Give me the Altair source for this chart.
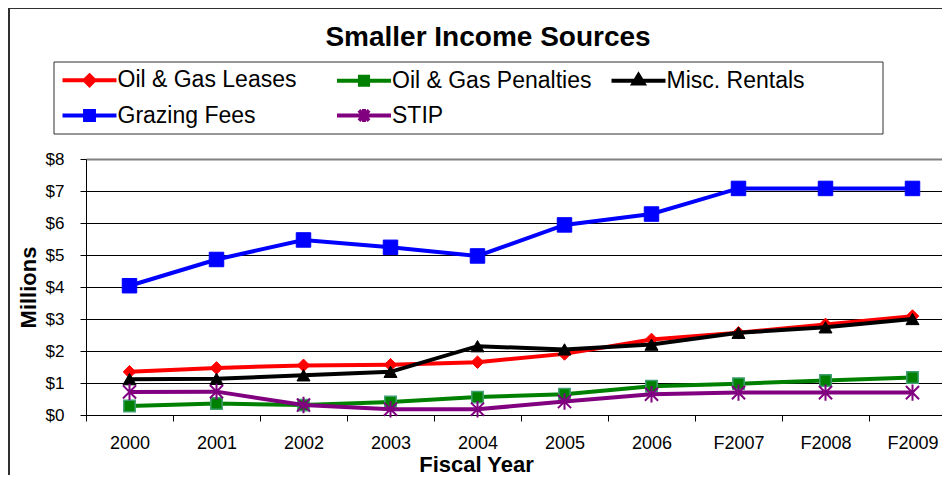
import altair as alt
import pandas as pd

# ---- data ----
years = ["2000", "2001", "2002", "2003", "2004", "2005", "2006", "F2007", "F2008", "F2009"]
series_names = ["Oil & Gas Leases", "Oil & Gas Penalties", "Misc. Rentals", "Grazing Fees", "STIP"]
oil_gas_leases = [1.35, 1.47, 1.55, 1.57, 1.65, 1.91, 2.36, 2.57, 2.83, 3.09]
oil_gas_penalties = [0.28, 0.36, 0.31, 0.41, 0.56, 0.65, 0.90, 0.98, 1.08, 1.17]
misc_rentals = [1.12, 1.13, 1.24, 1.35, 2.15, 2.05, 2.20, 2.57, 2.74, 3.00]
grazing_fees = [4.04, 4.86, 5.47, 5.24, 4.97, 5.94, 6.28, 7.08, 7.08, 7.08]
stip = [0.72, 0.73, 0.31, 0.18, 0.18, 0.42, 0.65, 0.70, 0.70, 0.70]
y_ticks = [0, 1, 2, 3, 4, 5, 6, 7, 8]

series_values = [oil_gas_leases, oil_gas_penalties, misc_rentals, grazing_fees, stip]

rows = []
for name, vals in zip(series_names, series_values):
    for yr, v in zip(years, vals):
        rows.append({"series": name, "year": yr, "value": v})
df = pd.DataFrame(rows)

# ---- styles ----
FONT = "Liberation Sans"
line_colors = ["#FF0000", "#008000", "#000000", "#0000FF", "#800080"]
ASTERISK = "M0,-1L0,1M-0.8,-0.8L0.8,0.8M-0.8,0.8L0.8,-0.8"
marker_styles = [
    dict(shape="diamond", fill="#FF0000", stroke="#FF0000", size=160, strokeWidth=1),
    dict(shape="square", fill="#008000", stroke="#3f9f70", size=130, strokeWidth=1.5),
    dict(shape="triangle-up", fill="#000000", stroke="#000000", size=170, strokeWidth=1),
    dict(shape="square", fill="#0000FF", stroke="#0000FF", size=210, strokeWidth=1),
    dict(shape=ASTERISK, fill="none", stroke="#800080", size=270, strokeWidth=2),
]
# legend glyphs: a long line (x from -4 to 4) with the series marker in the middle
legend_shapes = [
    "M-4,0L4,0M0,-0.72L0.72,0L0,0.72L-0.72,0Z",
    "M-4,0L4,0M-0.6,-0.6L0.6,-0.6L0.6,0.6L-0.6,0.6Z",
    "M-4,0L4,0M0,-0.85L0.75,0.4L-0.75,0.4Z",
    "M-4,0L4,0M-0.66,-0.66L0.66,-0.66L0.66,0.66L-0.66,0.66Z",
    "M-4,0L4,0M0,-0.95L0,0.95M-0.75,-0.75L0.75,0.75M-0.75,0.75L0.75,-0.75",
]

x_scale = alt.Scale(type="band", domain=years, range=[0, 870], paddingInner=0, paddingOuter=0)
y_scale = alt.Scale(domain=[0, 8], nice=False)

x_axis = alt.Axis(
    title="Fiscal Year", titleFont=FONT, titleFontSize=22, titleFontWeight="bold",
    titleColor="black", titleX=390, titleY=56, titleBaseline="alphabetic",
    titleAlign="center",
    labelFont=FONT, labelFontSize=18, labelColor="black", labelPadding=13, labelAngle=0,
    domainColor="black", domainWidth=1, tickColor="black", tickSize=6, tickBand="extent",
    grid=False,
)
y_axis = alt.Axis(
    values=y_ticks, labelExpr="'$' + datum.value",
    title="Millions", titleFont=FONT, titleFontSize=22, titleFontWeight="bold",
    titleColor="black", titleX=-58, titleY=128, titleAngle=270, titleAlign="center",
    titleBaseline="middle",
    labelFont=FONT, labelFontSize=17, labelColor="black", labelPadding=16,
    domainColor="black", domainWidth=1, tickColor="black", tickSize=6,
    grid=True,
    gridColor={"condition": {"test": "datum.value === 8", "value": "#808080"}, "value": "#000000"},
    gridWidth={"condition": {"test": "datum.value === 8", "value": 2}, "value": 1},
    gridOpacity=1,
)

base = alt.Chart(df)

layers = []

# outer chart-area border and legend box (decorations)
one = alt.Data(values=[{"k": 1}])
layers.append(
    alt.Chart(one).mark_rect(fill="white", fillOpacity=0, stroke="#303030", strokeWidth=2).encode(
        x=alt.value(-77), x2=alt.value(950), y=alt.value(-151), y2=alt.value(500)
    )
)
layers.append(
    alt.Chart(one).mark_rect(fill="white", fillOpacity=0, stroke="#303030", strokeWidth=1).encode(
        x=alt.value(-32), x2=alt.value(797), y=alt.value(-97), y2=alt.value(-25)
    )
)

for i, name in enumerate(series_names):
    sub = base.transform_filter(alt.datum.series == name)
    layers.append(
        sub.mark_line(color=line_colors[i], strokeWidth=4).encode(
            x=alt.X("year:N", scale=x_scale, axis=x_axis, sort=years),
            y=alt.Y("value:Q", scale=y_scale, axis=y_axis),
        )
    )
    ms = marker_styles[i]
    layers.append(
        sub.mark_point(
            shape=ms["shape"], fill=ms["fill"], stroke=ms["stroke"], size=ms["size"],
            strokeWidth=ms["strokeWidth"], opacity=1, fillOpacity=1 if ms["fill"] != "none" else 0,
        ).encode(
            x=alt.X("year:N", scale=x_scale, axis=x_axis, sort=years),
            y=alt.Y("value:Q", scale=y_scale, axis=y_axis),
        )
    )

leg = alt.Legend(
    title=None, orient="none", legendX=-8, legendY=-91, columns=3, direction="horizontal",
    columnPadding=11.5, rowPadding=7, gridAlign="all", padding=0,
    labelFont=FONT, labelFontSize=23, labelColor="black", labelOffset=16.5, labelLimit=400,
    symbolSize=182.25, symbolStrokeWidth=4, symbolOpacity=1,
)
legend_layer = base.transform_filter("false").mark_point(filled=False, strokeWidth=4).encode(
    fill=alt.Fill("series:N", scale=alt.Scale(domain=series_names, range=line_colors), legend=leg),
    stroke=alt.Stroke("series:N", scale=alt.Scale(domain=series_names, range=line_colors), legend=leg),
    shape=alt.Shape("series:N", scale=alt.Scale(domain=series_names, range=legend_shapes), legend=leg),
)
layers.append(legend_layer)

chart = alt.layer(*layers).properties(
    width=856,
    height=256,
    padding={"left": 78, "top": 151, "right": 0, "bottom": 60},
    autosize=alt.AutoSizeParams(type="none"),
    background="white",
    title=alt.TitleParams(
        "Smaller Income Sources", font=FONT, fontSize=28, fontWeight="bold", color="black",
        anchor="middle", dx=-26, dy=49,
    ),
).configure_view(stroke=None)

chart.save("out.html", embed_options={"renderer": "svg", "actions": False})
